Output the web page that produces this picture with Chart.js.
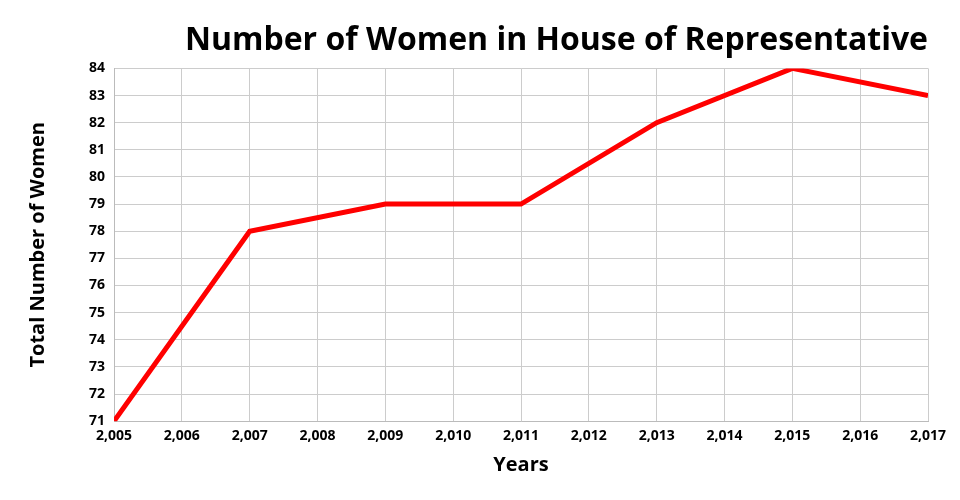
<!DOCTYPE html>
<html>
<head>
<meta charset="utf-8">
<script src="https://cdn.jsdelivr.net/npm/chart.js@4"></script>
<style>
  html, body { margin: 0; padding: 0; background: #fff; }
  #wrap { width: 960px; height: 500px; }
</style>
</head>
<body>
<div id="wrap"><canvas id="chart"></canvas></div>
<script>
var years = [2005, 2007, 2009, 2011, 2013, 2015, 2017];
var women = [71, 78, 79, 79, 82, 84, 83];

var points = [];
for (var i = 0; i < years.length; i++) {
	points.push({ x: years[i], y: women[i] });
}

var tickFont = { family: 'Open Sans', size: 14, weight: 'bold' };
var axisFont = { family: 'Open Sans', size: 20, weight: 'bold' };

new Chart(document.getElementById('chart'), {
	type: 'line',
	data: {
		datasets: [{
			label: 'Women',
			data: points,
			borderColor: '#ff0000',
			borderWidth: 5,
			pointRadius: 0,
			tension: 0,
			fill: false
		}]
	},
	options: {
		responsive: true,
		maintainAspectRatio: false,
		animation: false,
		layout: { padding: { left: 26, right: 32, top: 22, bottom: 23 } },
		plugins: {
			legend: { display: false },
			tooltip: { enabled: false },
			title: {
				display: true,
				text: 'Number of Women in House of Representative',
				align: 'end',
				color: '#000',
				font: { family: 'Open Sans', size: 32, weight: 'bold' },
				padding: { top: 0, bottom: 8 }
			}
		},
		scales: {
			x: {
				type: 'linear',
				min: 2005,
				max: 2017,
				ticks: { stepSize: 1, color: '#000', font: tickFont, padding: 6, maxRotation: 0 },
				grid: { color: '#cccccc', lineWidth: 1, drawTicks: false },
				border: { color: '#bbbbbb' },
				title: { display: true, text: 'Years', color: '#000', font: axisFont, padding: { top: 3, bottom: 0 } }
			},
			y: {
				min: 71,
				max: 84,
				ticks: { stepSize: 1, color: '#000', font: tickFont, padding: 9 },
				grid: { color: '#cccccc', lineWidth: 1, drawTicks: false },
				border: { color: '#bbbbbb' },
				title: { display: true, text: 'Total Number of Women', color: '#000', font: axisFont, padding: { top: 0, bottom: 30 } }
			}
		}
	}
});
</script>
</body>
</html>
